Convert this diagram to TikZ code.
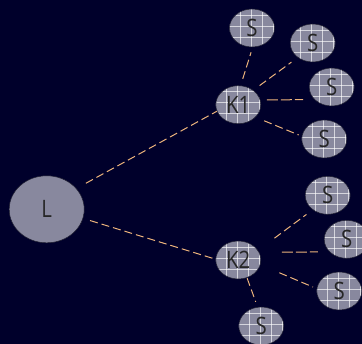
\documentclass[tikz,border=0pt]{standalone}
\usepackage{fontspec}
\setmainfont{Open Sans}
\usetikzlibrary{shapes.geometric}
\definecolor{bgnavy}{HTML}{00002B}
\definecolor{nodefill}{HTML}{88889E}
\definecolor{nodeedge}{HTML}{1E1E30}
\definecolor{linktan}{HTML}{EDB47C}
\tikzset{
  x=1pt,y=-1pt,
  base/.style={ellipse,draw=nodeedge,line width=.5pt,fill=nodefill,inner sep=0pt},
  gridded/.style={base,minimum width=45pt,minimum height=38pt,
    path picture={
      \foreach \gx in {-23,-12,-1,10,21}
        \draw[white,line width=.7pt,opacity=.65] ([xshift=\gx pt,yshift=-25pt]path picture bounding box.center) -- ([xshift=\gx pt,yshift=25pt]path picture bounding box.center);
      \foreach \gy in {-20,-9,2,13}
        \draw[white,line width=.7pt,opacity=.65] ([xshift=-25pt,yshift=\gy pt]path picture bounding box.center) -- ([xshift=25pt,yshift=\gy pt]path picture bounding box.center);
    }},
  leader/.style={base,minimum width=75pt,minimum height=67pt},
  link/.style={draw=linktan,line width=1pt,dash pattern=on 8pt off 4pt},
  longlink/.style={link,dash pattern=on 11pt off 3pt},
  label/.style={inner sep=0pt,text=black!85,font=\fontsize{24}{24}\selectfont,xscale=.85}
}
\begin{document}
\begin{tikzpicture}
\useasboundingbox (0,0) rectangle (362,344);
\fill[bgnavy] (0,0) rectangle (362,344);
\node[leader] (l) at (46.7,209.3) {};
\node[gridded] (k1) at (238.3,104.7) {};
\node[gridded] (k2) at (238.3,260) {};
\node[gridded] (s1) at (252,28) {};
\node[gridded] (s2) at (312.7,43) {};
\node[gridded] (s3) at (331.7,87) {};
\node[gridded] (s4) at (324.3,139) {};
\node[gridded] (s5) at (327.7,195.3) {};
\node[gridded] (s6) at (346.7,239.3) {};
\node[gridded] (s7) at (339.3,291) {};
\node[gridded] (s8) at (261.3,326) {};
\node[label] (tl) at (l) {L};
\node[label] (t1) at (k1) {K1};
\node[label] (t2) at (k2) {K2};
\foreach \n in {1,...,8} \node[label] (ts\n) at (s\n) {S};
\draw[link,shorten <=10.8pt] (l.35) -- (k1.197);
\draw[link,shorten <=7.3pt] (l.346) -- (k2.178);
\draw[link,shorten <=7pt,shorten >=5.3pt] (k1.83) -- (s1.272);
\draw[link,shorten <=7.8pt,shorten >=7.8pt] (k1.44) -- (s2.224);
\draw[longlink,shorten <=6.4pt,shorten >=11.3pt] (k1.12) -- (s3.216);
\draw[link,shorten <=9.3pt,shorten >=3.4pt] (k1.324) -- (s4.173.6);
\draw[link,shorten <=20.5pt,shorten >=7.8pt] (k2.26) -- (s5.224);
\draw[longlink,shorten <=22.7pt,shorten >=11.5pt] (k2.20) -- (s6.216.7);
\draw[link,shorten <=20.6pt,shorten >=4pt] (k2.348) -- (s7.174.6);
\draw[link,shorten <=.5pt,shorten >=5.5pt] (k2.296) -- (s8.101);
\end{tikzpicture}
\end{document}
